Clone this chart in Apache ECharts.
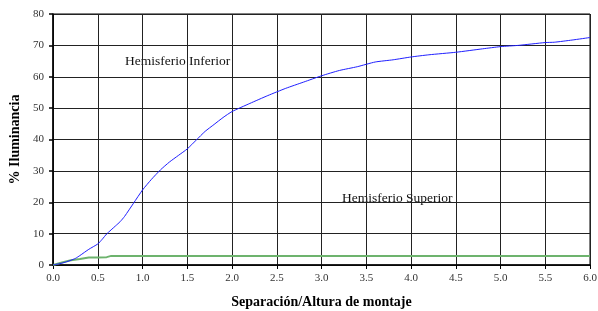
<!DOCTYPE html>
<html>
<head>
<meta charset="utf-8">
<script src="https://cdn.jsdelivr.net/npm/echarts@6/dist/echarts.min.js"></script>
<style>
  html, body { margin: 0; padding: 0; background: #fff; }
  #chart { width: 598px; height: 311px; }
</style>
</head>
<body>
<div id="chart"></div>
<script>
// curva hemisferio inferior (azul)
const inferiorX = [0, 0.1, 0.2, 0.25, 0.3, 0.4, 0.5, 0.55, 0.6, 0.7, 0.75, 0.8, 0.9, 1.0, 1.1, 1.2, 1.3, 1.4, 1.5, 1.6, 1.7, 1.8, 1.9, 2.0, 2.2, 2.4, 2.6, 2.8, 3.0, 3.2, 3.4, 3.6, 3.8, 4.0, 4.2, 4.5, 4.8, 5.0, 5.2, 5.5, 5.6, 5.8, 6.0]
const inferiorY = [0, 0.6, 1.5, 2.1, 3.0, 5.0, 6.7, 8.2, 9.9, 12.5, 13.8, 15.5, 19.7, 23.9, 27.3, 30.3, 32.8, 34.9, 37.0, 39.8, 42.6, 44.8, 47.0, 48.9, 51.5, 54.0, 56.3, 58.3, 60.3, 62.0, 63.2, 64.7, 65.4, 66.3, 67.0, 67.8, 68.9, 69.6, 70.0, 70.9, 71.0, 71.7, 72.5]

// curva hemisferio superior (verde)
const superiorX = [0, 0.1, 0.2, 0.3, 0.4, 0.5, 0.6, 0.65, 6.0]
const superiorY = [0, 0.8, 1.5, 1.9, 2.4, 2.4, 2.5, 2.9, 2.9]

const xTitle = 'Separación/Altura de montaje'
const yTitle = '% Iluminancia'

const chart = echarts.init(document.getElementById('chart'))
const serif = '"Liberation Serif", "DejaVu Serif", serif'

const pairs = (xs, ys) => xs.map((x, i) => [x, ys[i]])

chart.setOption({
  animation: false,
  grid: {
    left: 53, right: 8, top: 14, bottom: 46,
    containLabel: false, outerBoundsMode: 'none',
    show: true, borderColor: '#000', borderWidth: 1
  },
  xAxis: {
    type: 'value',
    min: 0, max: 6, interval: 0.5,
    name: xTitle,
    nameLocation: 'middle',
    nameGap: 30,
    nameTextStyle: { fontFamily: serif, fontWeight: 'bold', fontSize: 14, color: '#000' },
    axisLine: { lineStyle: { color: '#000', width: 1.5 } },
    axisTick: { show: true, length: 4, lineStyle: { color: '#000' } },
    axisLabel: {
      margin: 8, fontFamily: serif, fontSize: 11, color: '#333',
      formatter: v => v.toFixed(1)
    },
    splitLine: { show: true, lineStyle: { color: '#222', width: 1 } }
  },
  yAxis: {
    type: 'value',
    min: 0, max: 80, interval: 10,
    name: yTitle,
    nameLocation: 'middle',
    nameGap: 27,
    nameTextStyle: { fontFamily: serif, fontWeight: 'bold', fontSize: 14, color: '#000' },
    axisLine: { show: true, lineStyle: { color: '#000', width: 1.5 } },
    axisTick: { show: true, length: 4, lineStyle: { color: '#000', width: 1.5 } },
    axisLabel: { margin: 9, fontFamily: serif, fontSize: 11, color: '#333' },
    splitLine: { show: true, lineStyle: { color: '#222', width: 1 } }
  },
  series: [
    {
      name: 'Hemisferio Superior',
      type: 'line',
      data: pairs(superiorX, superiorY),
      symbol: 'none',
      lineStyle: { color: '#6db36d', width: 2 }
    },
    {
      name: 'Hemisferio Inferior',
      type: 'line',
      data: pairs(inferiorX, inferiorY),
      symbol: 'none',
      smooth: 0.2,
      lineStyle: { color: '#1f1fff', width: 1 }
    }
  ],
  graphic: [
    {
      type: 'text', left: 125, top: 54,
      style: { text: 'Hemisferio Inferior', font: '13.5px ' + serif, fill: '#111' }
    },
    {
      type: 'text', left: 342, top: 191,
      style: { text: 'Hemisferio Superior', font: '13.5px ' + serif, fill: '#111' }
    }
  ]
})
</script>
</body>
</html>
